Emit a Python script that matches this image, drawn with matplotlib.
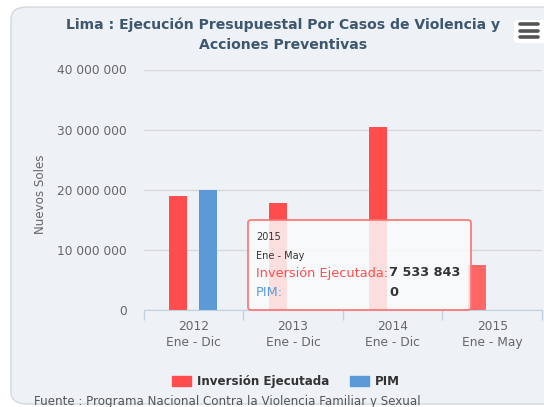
import matplotlib
matplotlib.use("Agg")
import matplotlib.pyplot as plt
from matplotlib.patches import FancyBboxPatch, Rectangle
from matplotlib.lines import Line2D
import numpy as np

years = ["2012", "2013", "2014", "2015"]
periods = ["Ene - Dic", "Ene - Dic", "Ene - Dic", "Ene - May"]
inversion = [19000000, 17850000, 30400000, 7533843]
pim = [20000000, 0, 0, 0]
yticks = [0, 10000000, 20000000, 30000000, 40000000]

W, H = 544, 407
fig = plt.figure(figsize=(W / 100, H / 100), dpi=100)
fig.patch.set_facecolor("white")

def px(x, y):
    return x / W, 1 - y / H

# background panel
panel = FancyBboxPatch(px(11, 404), (580 - 11) / W, (404 - 7) / H,
                       boxstyle="round,pad=0,rounding_size=0.03",
                       transform=fig.transFigure, facecolor="#eef2f6",
                       edgecolor="#d4d8dc", linewidth=1.0, zorder=-5)
fig.patches.append(panel)

ax = fig.add_axes([143.5 / W, 1 - 310 / H, (542 - 143.5) / W, (310 - 69.5) / H])
ax.set_facecolor("none")
ax.set_zorder(1)
x = np.arange(len(years))
bw = 0.18
off = 0.15
red = "#ff4d4d"
blue = "#5b9ad6"
cols = [red, red, red, "#ff6666"]
ax.bar(x - off, inversion, bw, color=cols, zorder=3)
ax.bar(x + off, pim, bw, color=blue, zorder=3)

ax.set_xlim(-0.5, 3.5)
ax.set_ylim(0, 40000000)
ax.set_yticks(yticks)
ax.set_yticklabels([f"{v:,}".replace(",", " ") for v in yticks], color="#666666", fontsize=8.8)
ax.tick_params(axis="y", length=0, pad=12)
ax.yaxis.grid(True, color="#d8d8d8", linewidth=1)
ax.set_axisbelow(True)
for s in ["top", "right", "left"]:
    ax.spines[s].set_visible(False)
ax.spines["bottom"].set_color("#c0d0e0")
ax.spines["bottom"].set_zorder(4)
ax.set_xticks(np.arange(-0.5, 4.0, 1.0))
ax.set_xticklabels([])
ax.tick_params(axis="x", which="major", length=7, color="#c0d0e0", width=1)
ax.set_xticks(x, minor=True)
ax.set_xticklabels([f"{y}\n{p}" for y, p in zip(years, periods)], minor=True,
                   color="#666666", fontsize=8.8, linespacing=1.3)
ax.tick_params(axis="x", which="minor", length=0, pad=7)

fig.text(40 / W, 1 - 194 / H, "Nuevos Soles", rotation=90, ha="center", va="center",
         color="#666666", fontsize=8.6)

fig.text(283.5 / W, 1 - 25 / H,
         "Lima : Ejecución Presupuestal Por Casos de Violencia y",
         ha="center", va="center", fontsize=10.1, fontweight="bold", color="#3e576f")
fig.text(283.5 / W, 1 - 45 / H, "Acciones Preventivas",
         ha="center", va="center", fontsize=10.1, fontweight="bold", color="#3e576f")

# menu button
mb = FancyBboxPatch(px(514, 43), 40 / W, 23 / H, boxstyle="round,pad=0,rounding_size=0.008",
                    transform=fig.transFigure, facecolor="white", edgecolor="none", zorder=5)
fig.patches.append(mb)
for yy in (24, 30.5, 37):
    fig.lines.append(Line2D([520 / W, 538 / W], [1 - yy / H, 1 - yy / H],
                            transform=fig.transFigure, color="#555555", linewidth=2.6,
                            solid_capstyle="round", zorder=6))

# legend
handles = [Rectangle((0, 0), 1, 1, color=red), Rectangle((0, 0), 1, 1, color=blue)]
fig.legend(handles, ["Inversión Ejecutada", "PIM"], loc="center",
           bbox_to_anchor=(286 / W, 1 - 381.5 / H), ncol=2, frameon=False,
           prop={"weight": "bold", "size": 8.6}, handlelength=1.55, handleheight=1.0,
           handletextpad=0.5, columnspacing=1.8, labelcolor="#333333")

fig.text(34 / W, 1 - 401 / H,
         "Fuente : Programa Nacional Contra la Violencia Familiar y Sexual",
         ha="left", va="center", fontsize=8.6, color="#555555")

# tooltip
tip = FancyBboxPatch(px(248, 310), (471 - 248) / W, (310 - 220) / H,
                     boxstyle="round,pad=0,rounding_size=0.006",
                     transform=fig.transFigure, facecolor=(0.985, 0.985, 0.985, 0.84),
                     edgecolor="#ff7070", linewidth=1.2, zorder=10)
fig.patches.append(tip)
fig.text(256 / W, 1 - 237 / H, "2015", fontsize=7, color="#333333", va="center", zorder=11)
fig.text(256 / W, 1 - 256 / H, "Ene - May", fontsize=7, color="#333333", va="center", zorder=11)
fig.text(256 / W, 1 - 273 / H, "Inversión Ejecutada:", fontsize=9.3, color="#ff4d4d",
         va="center", zorder=11)
fig.text(389 / W, 1 - 273 / H, f"{inversion[3]:,}".replace(",", " "), fontsize=9.3,
         fontweight="bold", color="#333333", va="center", zorder=11)
fig.text(256 / W, 1 - 292 / H, "PIM:", fontsize=9.3, color="#5b9ad6", va="center", zorder=11)
fig.text(389 / W, 1 - 292 / H, f"{pim[3]:,}".replace(",", " "), fontsize=9.3,
         fontweight="bold", color="#333333", va="center", zorder=11)

fig.savefig("out.png", dpi=100)
